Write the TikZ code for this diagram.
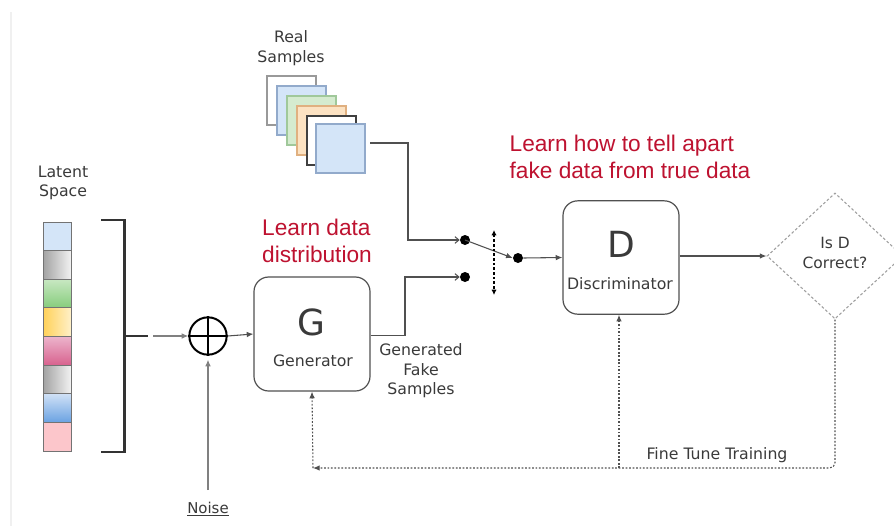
\documentclass[tikz,border=0pt]{standalone}
\usepackage{fontspec}
\setmainfont{DejaVu Sans}
\newfontfamily\redfont{Liberation Sans}
\usetikzlibrary{arrows.meta,shapes.geometric,calc}
\definecolor{txtgray}{HTML}{3A3A3A}
\definecolor{linegray}{HTML}{505050}
\definecolor{redtxt}{HTML}{BE1230}
\definecolor{lblue}{HTML}{D4E5F8}
\definecolor{lblueb}{HTML}{92AACB}
\definecolor{lgreen}{HTML}{D5EBCF}
\definecolor{lgreenb}{HTML}{A0C89A}
\definecolor{lorange}{HTML}{FCE2C2}
\definecolor{lorangeb}{HTML}{E0B080}
\definecolor{cgrayA}{HTML}{A2A2A2}
\definecolor{cgrayB}{HTML}{F2F2F2}
\definecolor{cgreenA}{HTML}{C8E8C2}
\definecolor{cgreenB}{HTML}{86CC7C}
\definecolor{cyelA}{HTML}{FFD158}
\definecolor{cyelB}{HTML}{FFF0C8}
\definecolor{cpinkA}{HTML}{ECB4CC}
\definecolor{cpinkB}{HTML}{D8628E}
\definecolor{cblueA}{HTML}{D0E1F6}
\definecolor{cblueB}{HTML}{6AA2E2}
\definecolor{clpink}{HTML}{FCC6CB}
\tikzset{
  lbl/.style={text=txtgray,font=\fontsize{11.8}{14.6}\selectfont,align=center,inner sep=0pt},
  redlbl/.style={text=redtxt,font=\redfont\fontsize{17}{20.3}\selectfont,align=left,inner sep=0pt},
  bigletter/.style={text=txtgray,font=\fontsize{27}{30}\selectfont,inner sep=0pt},
  roundbox/.style={draw=linegray,line width=0.9pt,rounded corners=11pt,fill=white,inner sep=0pt},
  cell/.style={draw=gray!90!black,line width=0.6pt},
  sample/.style={line width=0.8pt},
  conn/.style={draw=linegray,line width=0.8pt},
  tip/.style={-{Latex[length=5pt,width=4.2pt]}},
  barb/.style={-{Straight Barb[length=3pt,width=5pt]}},
  dotline/.style={draw=linegray,line width=0.8pt,dash pattern=on 1.3pt off 1.3pt},
  swdot/.style={circle,fill=black,inner sep=0pt,minimum size=7.5pt},
}
\begin{document}
\begin{tikzpicture}[x=0.75pt,y=-0.75pt]
\useasboundingbox[fill=white] (0,0) rectangle (894,526);
% faint frame line
\draw[gray!12,line width=0.8pt] (11,12) -- (11,526);

% Latent space
\node[lbl] (latlbl) at (63,183) {Latent\\Space};
\def\ch{28.625}
\fill[lblue] (43,222) rectangle (71,222+\ch);
\shade[left color=cgrayA,right color=cgrayB] (43,222+\ch) rectangle (71,222+2*\ch);
\shade[top color=cgreenA,bottom color=cgreenB] (43,222+2*\ch) rectangle (71,222+3*\ch);
\shade[left color=cyelA,right color=cyelB] (43,222+3*\ch) rectangle (71,222+4*\ch);
\shade[top color=cpinkA,bottom color=cpinkB] (43,222+4*\ch) rectangle (71,222+5*\ch);
\shade[left color=cgrayA,right color=cgrayB] (43,222+5*\ch) rectangle (71,222+6*\ch);
\shade[top color=cblueA,bottom color=cblueB] (43,222+6*\ch) rectangle (71,222+7*\ch);
\fill[clpink] (43,222+7*\ch) rectangle (71,451);
\foreach \i in {0,...,7}{\draw[cell] (43,222+\i*\ch) rectangle (71,222+\i*\ch+\ch);}

% bracket
\draw[black!80,line width=1.6pt] (101,220) -- (124.5,220) -- (124.5,452) -- (101,452);
\coordinate (brk) at (124.5,336);
\coordinate (brk2) at (148,336);
\coordinate (brk3) at (153,336);
\draw[black!80,line width=1.2pt] (brk) -- (brk2);

% plus
\node[circle,draw=black,line width=1.5pt,minimum size=28pt,inner sep=0pt] (plus) at (208,336) {};
\draw[black,line width=1.5pt] (plus.north) -- (plus.south) (plus.west) -- (plus.east);
\draw[conn,tip,draw=gray] (brk3) -- (plus.west);

% Noise
\node[lbl,font=\fontsize{11.2}{14}\selectfont] (noise) at (208,509) {\underline{Noise}};
\coordinate (noisetop) at (208,490);
\draw[conn,tip,draw=gray] (noisetop) -- ([yshift=-3pt]plus.south);

% Generator
\node[roundbox,minimum width=87pt,minimum height=85.5pt] (G) at (312,334) {};
\node[bigletter] (Gl) at (311,322) {G};
\node[lbl] (Gt) at (313,361) {Generator};
\draw[conn,tip] (plus.east) -- (G.west);

% Generated fake samples label
\node[lbl] (gfs) at (421,371) {Generated\\Fake\\Samples};

% Real samples
\node[lbl] (rslbl) at (291,48) {Real\\Samples};
\draw[sample,draw=gray!80,fill=white] (267,76) rectangle +(49,49);
\draw[sample,draw=lblueb,fill=lblue] (277,86) rectangle +(49,49);
\draw[sample,draw=lgreenb,fill=lgreen] (287,96) rectangle +(49,49);
\draw[sample,draw=lorangeb,fill=lorange] (297,106) rectangle +(49,49);
\draw[sample,draw=black!75,fill=white] (307,116) rectangle +(49,49);
\draw[sample,draw=lblueb,fill=lblue] (316,124) rectangle (365,173);
\coordinate (rsout) at (370,143);

% switch
\node[swdot] (d1) at (465,240) {};
\node[swdot] (d2) at (465,277) {};
\node[swdot] (d3) at (518,258) {};
\draw[conn,barb] (rsout) -| (408,240) -- (d1.west);
\draw[conn,barb] ([yshift=-1pt]G.east) -| (405,277) -- (d2.west);
\draw[conn,tip] (d1.center) -- (d3.west);
\coordinate (swtop) at (494,230);
\coordinate (swbot) at (494,295);
\draw[black,line width=0.9pt,dash pattern=on 2pt off 1.5pt,{Latex[length=4pt,width=4pt]}-{Latex[length=4pt,width=4pt]}] (swtop) -- (swbot);

% Discriminator
\node[roundbox,minimum width=87pt,minimum height=85pt] (D) at (621,257.5) {};
\node[bigletter] (Dl) at (621,244) {D};
\node[lbl] (Dt) at (620,284) {Discriminator};
\draw[conn,tip] (d3.east) -- (D.west);

% diamond
\node[diamond,draw=gray!75,line width=0.8pt,dash pattern=on 2pt off 1.6pt,minimum width=102pt,minimum height=94.5pt,inner sep=0pt] (dia) at (835,256) {};
\node[lbl,font=\fontsize{11.6}{14.6}\selectfont] (diat) at (835,253) {Is D\\Correct?};
\draw[conn,tip] (D.east |- dia.west) -- (dia.west);

% fine tune feedback
\coordinate (corner) at (313,468);
\coordinate (dfoot) at (619,468);
\draw[dotline,tip,rounded corners=4pt] (dia.south) -- (835,468) -- (corner);
\draw[dotline,tip] (corner) -- (G.south);
\draw[dotline,tip] (dfoot) -- (D.south -| dfoot);
\node[lbl] (ftt) at (717,455) {Fine Tune Training};

% red annotations
\node[redlbl] (r1) at (317,241) {Learn data\\distribution};
\node[redlbl] (r2) at (630,156.5) {Learn how to tell apart\\fake data from true data};
\end{tikzpicture}
\end{document}
